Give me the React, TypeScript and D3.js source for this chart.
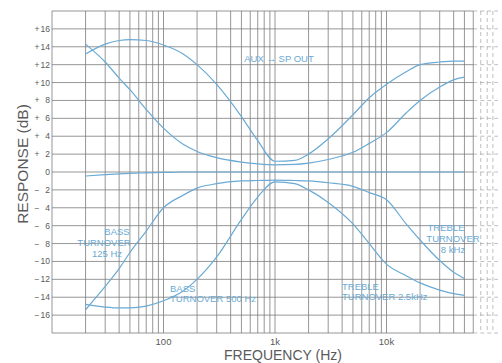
import React from 'react';
import * as d3 from 'd3';

const freqs = [20, 30, 40, 50, 70, 100, 150, 200, 300, 500, 700, 1000, 1500, 2000, 3000, 5000, 7000, 10000, 15000, 20000, 30000, 40000, 50000];

// response in dB for each setting
const flat = [-0.45, -0.3, -0.2, -0.15, -0.1, -0.05, 0, 0, 0, 0, 0, 0, 0, 0, 0, 0, 0, 0, 0, 0, 0, 0, 0];
const boost125_8k = [14.3, 12.3, 10.5, 9.2, 7.0, 4.9, 3.1, 2.3, 1.6, 1.1, 0.9, 0.8, 0.85, 1.0, 1.4, 2.2, 3.2, 4.4, 6.6, 8.0, 9.5, 10.3, 10.6];
const boost500_2k5 = [13.2, 14.3, 14.7, 14.8, 14.7, 14.2, 13.2, 12.0, 9.8, 6.2, 3.5, 1.2, 1.3, 2.0, 3.7, 6.4, 8.3, 9.8, 11.2, 12.0, 12.3, 12.4, 12.4];
const cut125_8k = [-15.4, -12.8, -10.8, -9.0, -6.6, -4.0, -2.6, -1.8, -1.3, -1.0, -0.95, -0.9, -0.95, -1.0, -1.2, -1.6, -2.3, -3.1, -5.8, -7.6, -9.9, -11.2, -11.9];
const cut500_2k5 = [-14.8, -15.1, -15.2, -15.2, -15.0, -14.4, -13.3, -12.0, -9.5, -5.3, -2.8, -1.1, -1.3, -2.0, -3.4, -5.8, -8.0, -10.3, -11.6, -12.4, -13.2, -13.6, -13.8];

const series = [flat, boost125_8k, boost500_2k5, cut125_8k, cut500_2k5];

const yTicks = [16, 14, 12, 10, 8, 6, 4, 2, 0, -2, -4, -6, -8, -10, -12, -14, -16];
const xTickLabels = [
  { f: 100, label: '100' },
  { f: 1000, label: '1k' },
  { f: 10000, label: '10k' },
];

const GRID = '#7c7c7c';
const BLUE = '#6aaad4';
const TEXT = '#5a5a5a';
const FONT = 'Liberation Sans, Arial, Helvetica, sans-serif';

export default function App() {
  const width = 502;
  const height = 363;

  const x = d3.scaleLog().domain([10, 100000]).range([52, 498]);
  const y = d3.scaleLinear().domain([-18, 18]).range([333, 11]);

  // vertical grid lines: 20..90, 100..900, ... up to 90k
  const vLines: number[] = [];
  for (let dec = 10; dec <= 10000; dec *= 10) {
    for (let m = dec === 10 ? 2 : 1; m <= 9; m++) vLines.push(m * dec);
  }
  const solidEnd = x(60000);

  const hLines = d3.range(-18, 18.01, 2);

  const line = d3
    .line<number>()
    .x((_, i) => x(freqs[i]))
    .y((d) => y(d))
    .curve(d3.curveMonotoneX);

  return (
    <svg
      width={width}
      height={height}
      style={{ position: 'absolute', left: 0, top: 0, background: '#fff' }}
      fontFamily={FONT}
    >
      {/* grid */}
      <g stroke={GRID} strokeWidth={0.8}>
        {vLines.map((f) => (
          <line
            key={f}
            x1={x(f)}
            x2={x(f)}
            y1={y(18)}
            y2={y(-18)}
            strokeDasharray={f > 60000 ? '4 3' : undefined}
            opacity={f > 60000 ? 0.6 : 1}
          />
        ))}
        {hLines.map((v) => (
          <g key={v}>
            <line x1={x(10)} x2={solidEnd} y1={y(v)} y2={y(v)} />
            <line x1={solidEnd} x2={x(100000)} y1={y(v)} y2={y(v)} strokeDasharray="4 3" opacity={0.6} />
          </g>
        ))}
        <line x1={x(10)} x2={x(10)} y1={y(18)} y2={y(-18)} />
      </g>

      {/* curves */}
      <g fill="none" stroke={BLUE} strokeWidth={1.2}>
        {series.map((s, i) => (
          <path key={i} d={line(s) || ''} />
        ))}
      </g>

      {/* y tick labels */}
      <g fill={TEXT} fontSize={8.5}>
        {yTicks.map((v) => (
          <g key={v}>
            {v !== 0 && (
              <text x={37} y={y(v) + 3} textAnchor="middle">
                {v > 0 ? '+' : '\u2212'}
              </text>
            )}
            <text x={50} y={y(v) + 3} textAnchor="end">
              {Math.abs(v)}
            </text>
          </g>
        ))}
      </g>

      {/* x tick labels */}
      <g fill={TEXT} fontSize={9.5}>
        {xTickLabels.map((t) => (
          <text key={t.f} x={x(t.f)} y={345} textAnchor="middle">
            {t.label}
          </text>
        ))}
      </g>

      {/* axis titles */}
      <text x={283} y={360} textAnchor="middle" fontSize={14} fill={TEXT}>
        FREQUENCY (Hz)
      </text>
      <text
        transform="translate(28,164) rotate(-90)"
        textAnchor="middle"
        fontSize={15.5}
        fill={TEXT}
      >
        RESPONSE (dB)
      </text>

      {/* annotations */}
      <g fill={BLUE} fontSize={9.5}>
        <text x={279} y={62} textAnchor="middle">AUX → SP OUT</text>
        <text x={117} y={235} textAnchor="middle">BASS</text>
        <text x={104} y={246} textAnchor="middle">TURNOVER</text>
        <text x={107} y={257} textAnchor="middle">125 Hz</text>
        <text x={170} y={292}>BASS</text>
        <text x={170} y={302}>TURNOVER 500 Hz</text>
        <text x={342} y={290}>TREBLE</text>
        <text x={342} y={300}>TURNOVER 2.5kHz</text>
        <text x={446} y={231} textAnchor="middle">TREBLE</text>
        <text x={453} y={242} textAnchor="middle">TURNOVER</text>
        <text x={453} y={253} textAnchor="middle">8 kHz</text>
      </g>
    </svg>
  );
}
